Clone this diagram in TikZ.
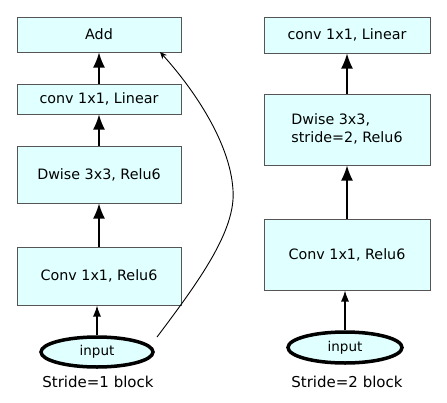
\documentclass[tikz,border=0pt]{standalone}
\usepackage{fontspec}
\setmainfont{DejaVu Sans}
\usetikzlibrary{arrows.meta,shapes.geometric}
\definecolor{boxfill}{HTML}{E0FFFF}
\definecolor{boxline}{HTML}{555555}
\begin{document}
\begin{tikzpicture}[x=1pt,y=-1pt,
  blk/.style={draw=boxline,fill=boxfill,line width=1pt,inner sep=0pt,font=\fontsize{14.3}{18}\selectfont},
  inp/.style={ellipse,draw=black,fill=boxfill,line width=3.5pt,inner sep=0pt,font=\fontsize{13.5}{16}\selectfont},
  lbl/.style={font=\fontsize{15}{18}\selectfont,inner sep=0pt},
  big/.style={line width=1.5pt,-{Latex[length=15pt,width=12pt]}},
  small/.style={line width=1.2pt,-{Latex[length=11pt,width=8pt]}},
  thin/.style={line width=0.9pt,-{Stealth[length=7pt,width=6pt]}}]
\useasboundingbox[fill=white] (0,0) rectangle (447,402);
% left column
\node[blk,minimum width=164pt,minimum height=35pt] (add) at (99,34.5) {Add};
\node[blk,minimum width=164pt,minimum height=30pt] (l1) at (99,99) {conv 1x1, Linear};
\node[blk,minimum width=164pt,minimum height=57pt] (dw1) at (99,174.5) {Dwise 3x3, Relu6};
\node[blk,minimum width=164pt,minimum height=58pt] (c1) at (99,276) {Conv 1x1, Relu6};
\node[inp,minimum width=112pt,minimum height=30pt] (in1) at (97,352) {input};
\node[lbl] (s1) at (98,382) {Stride=1 block};
\draw[small] (in1) -- (c1.south -| in1);
\draw[big] (c1.north) -- (dw1.south);
\draw[big] (dw1.north) -- (l1.south);
\draw[big] (l1.north) -- (add.south);
\coordinate (cs) at (157,337);
\coordinate (ce) at (160,52);
\draw[thin] (cs) .. controls (200,280) and (236,230) .. (233,190) .. controls (230,140) and (190,85) .. (ce);
% right column
\node[blk,minimum width=166pt,minimum height=36pt] (l2) at (347,35) {conv 1x1, Linear};
\node[blk,minimum width=166pt,minimum height=71pt] (dw2) at (347,129.5) {\begin{tabular}{@{}l@{}}Dwise 3x3,\\stride=2, Relu6\end{tabular}};
\node[blk,minimum width=166pt,minimum height=71pt] (c2) at (347,254.5) {Conv 1x1, Relu6};
\node[inp,minimum width=114pt,minimum height=31pt] (in2) at (345,347.5) {input};
\node[lbl] (s2) at (347,382) {Stride=2 block};
\draw[small] (in2) -- (c2.south -| in2);
\draw[big] (c2.north) -- (dw2.south);
\draw[big] (dw2.north) -- (l2.south);
\end{tikzpicture}
\end{document}
